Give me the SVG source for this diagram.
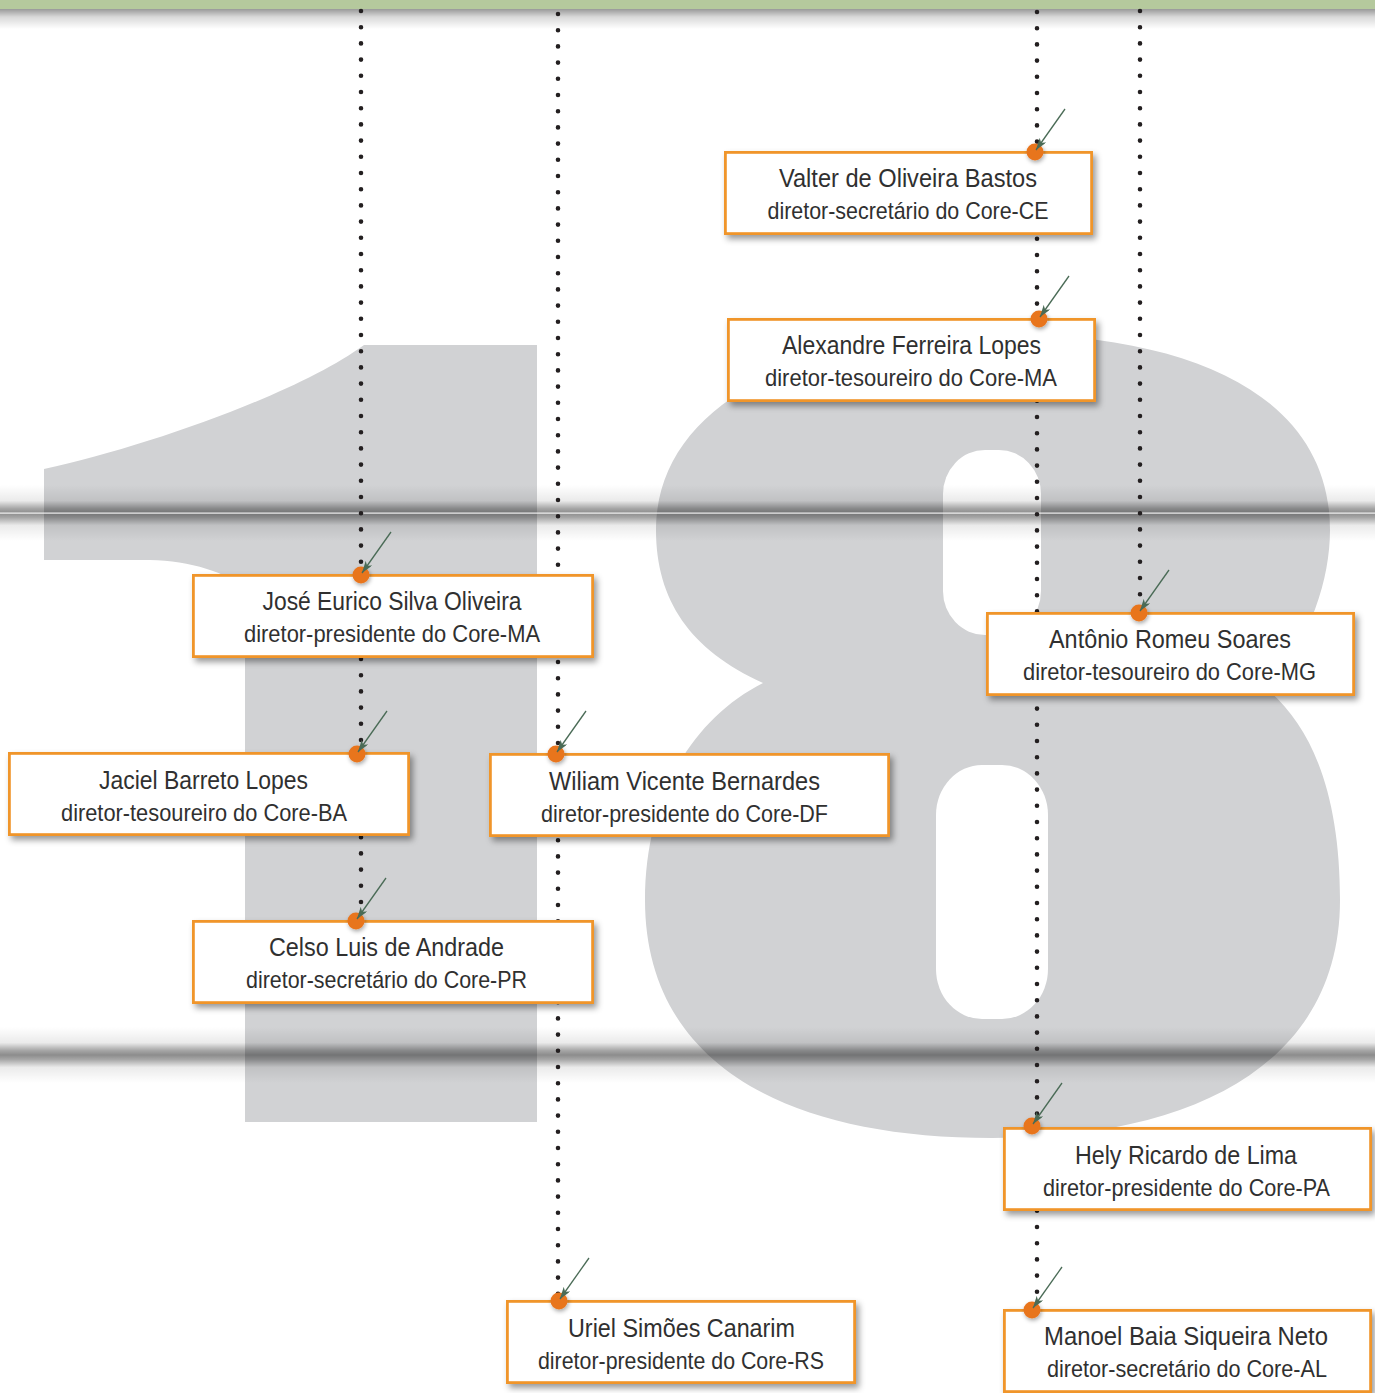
<svg xmlns="http://www.w3.org/2000/svg" width="1375" height="1393" viewBox="0 0 1375 1393">
<style>
.box{fill:#ffffff;stroke:#f0952a;stroke-width:2.8;filter:url(#sh)}
.t1{font-family:"Liberation Sans",Arial,sans-serif;font-size:26px;fill:#303030;text-anchor:middle}
.t2{font-family:"Liberation Sans",Arial,sans-serif;font-size:24px;fill:#303030;text-anchor:middle}
.dot{fill:#e8741f;filter:url(#dsh)}
.dl{fill:none;stroke:#231f20;stroke-width:4.6;stroke-linecap:round;stroke-dasharray:0 16.2}
.ar{stroke:#4a6b56;stroke-width:1.3;fill:none;marker-end:url(#ah)}
.glyph{fill:#d1d2d4}
</style>
<defs>
<filter id="sh" x="-10%" y="-20%" width="125%" height="150%">
<feDropShadow dx="3" dy="4" stdDeviation="3" flood-color="#000" flood-opacity="0.4"/>
</filter>
<filter id="dsh" x="-100%" y="-100%" width="300%" height="300%">
<feDropShadow dx="1" dy="2" stdDeviation="2" flood-color="#000" flood-opacity="0.35"/>
</filter>
<linearGradient id="band" x1="0" y1="0" x2="0" y2="1">
<stop offset="0" stop-color="#000" stop-opacity="0"/>
<stop offset="0.28" stop-color="#000" stop-opacity="0.08"/>
<stop offset="0.42" stop-color="#000" stop-opacity="0.35"/>
<stop offset="0.5" stop-color="#000" stop-opacity="0.45"/>
<stop offset="0.58" stop-color="#000" stop-opacity="0.35"/>
<stop offset="0.72" stop-color="#000" stop-opacity="0.08"/>
<stop offset="1" stop-color="#000" stop-opacity="0"/>
</linearGradient>
<linearGradient id="topsh" x1="0" y1="0" x2="0" y2="1">
<stop offset="0" stop-color="#000" stop-opacity="0.4"/>
<stop offset="0.4" stop-color="#000" stop-opacity="0.15"/>
<stop offset="1" stop-color="#000" stop-opacity="0"/>
</linearGradient>
<marker id="ah" viewBox="0 0 12 8" refX="12" refY="4" markerWidth="12" markerHeight="8" markerUnits="userSpaceOnUse" orient="auto">
<path d="M0,0 L12,4 L0,8 L3,4 Z" fill="#4a6b56"/>
</marker>
</defs>

<rect x="0" y="0" width="1375" height="1393" fill="#ffffff"/>

<g id="numeral-18">
<path class="glyph" d="M44 469 C150 446 300 392 364 345 L537 345 L537 1122 L245 1122 L245 590 C228 572 190 561 150 560 L44 560 Z"/>
<path class="glyph" d="M1000 334 C1200 334 1330 400 1330 530 C1330 580 1310 640 1268 690 C1315 730 1340 800 1340 900 C1340 1060 1200 1138 992 1138 C780 1138 645 1060 645 900 C645 800 690 720 763 683 C690 650 656 600 656 530 C656 410 790 334 1000 334 Z"/>
<rect x="943" y="450" width="98" height="185" rx="42" ry="44" fill="#ffffff"/>
<rect x="936" y="765" width="112" height="254" rx="46" ry="50" fill="#ffffff"/>
</g>

<g id="bands">
<rect x="0" y="485" width="1375" height="56" fill="url(#band)"/>
<rect x="0" y="512.5" width="1375" height="1.2" fill="#ffffff" opacity="0.9"/>
<rect x="0" y="1027" width="1375" height="56" fill="url(#band)"/>
</g>

<g id="top-bar">
<rect x="0" y="9" width="1375" height="20" fill="url(#topsh)"/>
<rect x="0" y="0" width="1375" height="9" fill="#b5c99d"/>
</g>

<g id="connectors">
<line class="dl" x1="361" y1="11" x2="361" y2="921"/>
<line class="dl" x1="558" y1="14" x2="558" y2="1301"/>
<line class="dl" x1="1037" y1="12" x2="1037" y2="1310"/>
<line class="dl" x1="1140" y1="11" x2="1140" y2="613"/>
</g>

<g id="node-valter">
<rect class="box" x="725.4" y="152.4" width="366.2" height="81.2"/>
<text class="t1" x="908" y="187" textLength="258" lengthAdjust="spacingAndGlyphs">Valter de Oliveira Bastos</text>
<text class="t2" x="908" y="219" textLength="281" lengthAdjust="spacingAndGlyphs">diretor-secretário do Core-CE</text>
<circle class="dot" cx="1035" cy="152" r="8.5"/>
</g>

<g id="node-alexandre">
<rect class="box" x="728.4" y="319.4" width="366.2" height="81.2"/>
<text class="t1" x="911.5" y="354" textLength="259" lengthAdjust="spacingAndGlyphs">Alexandre Ferreira Lopes</text>
<text class="t2" x="911" y="386" textLength="292" lengthAdjust="spacingAndGlyphs">diretor-tesoureiro do Core-MA</text>
<circle class="dot" cx="1039" cy="319" r="8.5"/>
</g>

<g id="node-jose">
<rect class="box" x="193.4" y="575.4" width="399.2" height="81.2"/>
<text class="t1" x="392" y="610" textLength="259" lengthAdjust="spacingAndGlyphs">José Eurico Silva Oliveira</text>
<text class="t2" x="392" y="642" textLength="296" lengthAdjust="spacingAndGlyphs">diretor-presidente do Core-MA</text>
<circle class="dot" cx="361" cy="575" r="8.5"/>
</g>

<g id="node-antonio">
<rect class="box" x="987.4" y="613.4" width="366.2" height="81.2"/>
<text class="t1" x="1170" y="648" textLength="242" lengthAdjust="spacingAndGlyphs">Antônio Romeu Soares</text>
<text class="t2" x="1169.5" y="680" textLength="293" lengthAdjust="spacingAndGlyphs">diretor-tesoureiro do Core-MG</text>
<circle class="dot" cx="1139" cy="613" r="8.5"/>
</g>

<g id="node-jaciel">
<rect class="box" x="9.4" y="753.4" width="399.2" height="81.2"/>
<text class="t1" x="203.5" y="789" textLength="209" lengthAdjust="spacingAndGlyphs">Jaciel Barreto Lopes</text>
<text class="t2" x="204" y="821" textLength="286" lengthAdjust="spacingAndGlyphs">diretor-tesoureiro do Core-BA</text>
<circle class="dot" cx="357" cy="754" r="8.5"/>
</g>

<g id="node-wiliam">
<rect class="box" x="490.4" y="754.4" width="398.2" height="81.2"/>
<text class="t1" x="684.5" y="790" textLength="271" lengthAdjust="spacingAndGlyphs">Wiliam Vicente Bernardes</text>
<text class="t2" x="684.5" y="822" textLength="287" lengthAdjust="spacingAndGlyphs">diretor-presidente do Core-DF</text>
<circle class="dot" cx="556" cy="754" r="8.5"/>
</g>

<g id="node-celso">
<rect class="box" x="193.4" y="921.4" width="399.2" height="81.2"/>
<text class="t1" x="386.5" y="956" textLength="235" lengthAdjust="spacingAndGlyphs">Celso Luis de Andrade</text>
<text class="t2" x="386.5" y="988" textLength="281" lengthAdjust="spacingAndGlyphs">diretor-secretário do Core-PR</text>
<circle class="dot" cx="356" cy="921" r="8.5"/>
</g>

<g id="node-hely">
<rect class="box" x="1004.4" y="1128.4" width="366.2" height="81.2"/>
<text class="t1" x="1186" y="1164" textLength="222" lengthAdjust="spacingAndGlyphs">Hely Ricardo de Lima</text>
<text class="t2" x="1186.5" y="1196" textLength="287" lengthAdjust="spacingAndGlyphs">diretor-presidente do Core-PA</text>
<circle class="dot" cx="1032" cy="1126" r="8.5"/>
</g>

<g id="node-uriel">
<rect class="box" x="507.4" y="1301.4" width="347.2" height="81.2"/>
<text class="t1" x="681.5" y="1337" textLength="227" lengthAdjust="spacingAndGlyphs">Uriel Simões Canarim</text>
<text class="t2" x="681" y="1369" textLength="286" lengthAdjust="spacingAndGlyphs">diretor-presidente do Core-RS</text>
<circle class="dot" cx="559" cy="1301" r="8.5"/>
</g>

<g id="node-manoel">
<rect class="box" x="1004.4" y="1310.4" width="366.2" height="81.2"/>
<text class="t1" x="1186" y="1345" textLength="284" lengthAdjust="spacingAndGlyphs">Manoel Baia Siqueira Neto</text>
<text class="t2" x="1187" y="1377" textLength="280" lengthAdjust="spacingAndGlyphs">diretor-secretário do Core-AL</text>
<circle class="dot" cx="1032" cy="1310" r="8.5"/>
</g>

<g id="pointers">
<line class="ar" x1="1065" y1="109" x2="1036" y2="150"/>
<line class="ar" x1="1069" y1="276" x2="1040" y2="317"/>
<line class="ar" x1="391" y1="532" x2="362" y2="573"/>
<line class="ar" x1="1169" y1="570" x2="1140" y2="611"/>
<line class="ar" x1="387" y1="711" x2="358" y2="752"/>
<line class="ar" x1="586" y1="711" x2="557" y2="752"/>
<line class="ar" x1="386" y1="878" x2="357" y2="919"/>
<line class="ar" x1="1062" y1="1083" x2="1033" y2="1124"/>
<line class="ar" x1="589" y1="1258" x2="560" y2="1299"/>
<line class="ar" x1="1062" y1="1267" x2="1033" y2="1308"/>
</g>
</svg>
